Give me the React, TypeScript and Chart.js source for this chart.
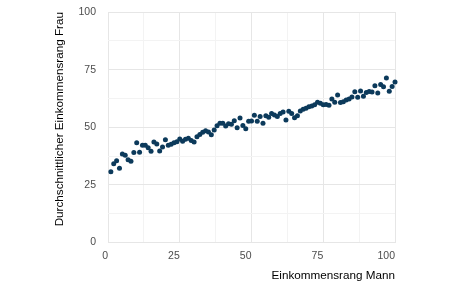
import React, { useEffect, useRef } from "react";
import { Chart, registerables } from "chart.js";

Chart.register(...registerables);

// Income rank of the man (percentile)
const manRank = [
  1, 2, 3, 4, 5, 6, 7, 8, 9, 10,
  11, 12, 13, 14, 15, 16, 17, 18, 19, 20,
  21, 22, 23, 24, 25, 26, 27, 28, 29, 30,
  31, 32, 33, 34, 35, 36, 37, 38, 39, 40,
  41, 42, 43, 44, 45, 46, 47, 48, 49, 50,
  51, 52, 53, 54, 55, 56, 57, 58, 59, 60,
  61, 62, 63, 64, 65, 66, 67, 68, 69, 70,
  71, 72, 73, 74, 75, 76, 77, 78, 79, 80,
  81, 82, 83, 84, 85, 86, 87, 88, 89, 90,
  91, 92, 93, 94, 95, 96, 97, 98, 99, 100,
];

// Average income rank of the woman
const womanAvgRank = [
  30.7, 34.2, 35.5, 32.2, 38.4, 37.8, 35.9, 35.2, 39.0, 43.3,
  39.1, 42.2, 42.2, 41.1, 39.6, 43.6, 42.7, 39.7, 41.4, 44.6,
  42.2, 42.6, 43.3, 43.7, 44.9, 43.9, 44.8, 45.2, 44.3, 43.6,
  45.9, 46.9, 47.8, 48.5, 47.9, 46.8, 48.8, 50.7, 51.7, 51.7,
  50.5, 51.5, 51.3, 52.8, 49.8, 54.0, 50.8, 49.4, 52.6, 52.7,
  55.2, 52.6, 54.7, 51.7, 55.0, 54.3, 56.0, 55.3, 54.7, 56.0,
  56.6, 53.1, 56.9, 56.0, 54.1, 55.0, 57.0, 57.8, 58.2, 58.9,
  59.2, 59.8, 60.8, 60.4, 59.8, 59.9, 59.5, 62.3, 60.8, 64.0,
  60.7, 61.1, 61.8, 62.3, 63.1, 65.4, 63.0, 65.7, 63.4, 65.1,
  65.5, 65.3, 68.0, 64.9, 68.5, 67.6, 71.4, 65.6, 67.7, 69.6,
];

const labeledTicks = [0, 25, 50, 75, 100];
const xTitle = "Einkommensrang Mann";
const yTitle = "Durchschnittlicher Einkommensrang Frau";

const FONT = "'Liberation Sans', Arial, Helvetica, sans-serif";
const MAJOR = "#e6e6e6";
const MINOR = "#f3f3f3";

export default function App() {
  const ref = useRef<HTMLCanvasElement>(null);

  useEffect(() => {
    document.body.style.margin = "0";
    const canvas = ref.current;
    if (!canvas) return;
    const gridColor = (ctx: any) =>
      labeledTicks.includes(ctx.tick?.value) ? MAJOR : MINOR;
    const tickCb = (v: any) => (labeledTicks.includes(Number(v)) ? String(v) : "");

    const chart = new Chart(canvas, {
      type: "scatter",
      data: {
        datasets: [
          {
            data: manRank.map((x, i) => ({ x, y: womanAvgRank[i] })),
            backgroundColor: "#0c3a5b",
            borderWidth: 0,
            pointRadius: 2.5,
            pointHoverRadius: 2.5,
            clip: false,
          } as any,
        ],
      },
      options: {
        responsive: false,
        animation: false,
        devicePixelRatio: 1,
        layout: { padding: { left: 0, top: 12, right: 55, bottom: 0 } },
        plugins: { legend: { display: false }, tooltip: { enabled: false } },
        scales: {
          x: {
            type: "linear",
            min: 0,
            max: 100,
            border: { display: false },
            grid: { color: gridColor, lineWidth: 1, drawTicks: false },
            ticks: {
              stepSize: 12.5,
              autoSkip: false,
              maxRotation: 0,
              callback: tickCb,
              align: "end",
              padding: 7,
              color: "#4d4d4d",
              font: { family: FONT, size: 10.5 },
            },
            title: {
              display: true,
              text: xTitle,
              align: "end",
              color: "#000000",
              font: { family: FONT, size: 11.7 },
              padding: { top: 0, bottom: 2 },
            },
            afterFit: (s: any) => {
              s.height = 42.5;
              s.paddingLeft = 0;
              s.paddingRight = 0;
            },
          },
          y: {
            type: "linear",
            min: 0,
            max: 100,
            border: { display: false },
            grid: { color: gridColor, lineWidth: 1, drawTicks: false },
            ticks: {
              stepSize: 12.5,
              autoSkip: false,
              callback: tickCb,
              padding: 12,
              color: "#4d4d4d",
              font: { family: FONT, size: 10.5 },
            },
            title: {
              display: true,
              text: yTitle,
              align: "end",
              color: "#000000",
              font: { family: FONT, size: 11.7 },
              padding: { top: 53, bottom: 0 },
            },
            afterFit: (s: any) => {
              s.width = 108;
              s.paddingTop = 0;
              s.paddingBottom = 0;
            },
          },
        },
      } as any,
    });
    return () => chart.destroy();
  }, []);

  return (
    <div style={{ width: 450, height: 285 }}>
      <canvas ref={ref} width={450} height={285} style={{ display: "block" }} />
    </div>
  );
}
